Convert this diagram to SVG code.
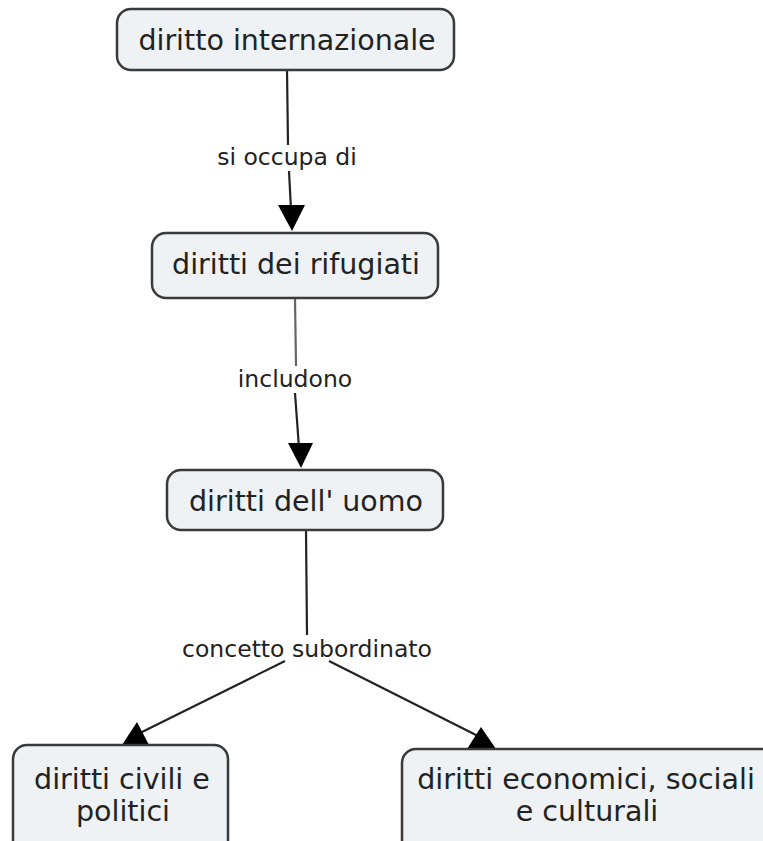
<svg xmlns="http://www.w3.org/2000/svg" width="763" height="841" viewBox="0 0 763 841">
  <style>
    .box { fill: #eef2f5; stroke: #3a3a3a; stroke-width: 2.5; }
    .ntext { font-family: "DejaVu Sans", Verdana, sans-serif; font-size: 28.5px; fill: #222; text-anchor: middle; }
    .ltext { font-family: "DejaVu Sans", Verdana, sans-serif; font-size: 23.5px; fill: #222; text-anchor: middle; }
    .line { stroke: #222; stroke-width: 2.2; fill: none; }
    .head { fill: #000; }
  </style>
  <rect width="763" height="841" fill="#fff"/>

  <!-- connectors and link labels -->
  <g id="connectors">
    <line class="line" x1="287" y1="70" x2="288" y2="145"/>
    <line class="line" x1="289" y1="171" x2="291" y2="210"/>
    <polygon class="head" points="278,205 305,205 292,231"/>
    <text class="ltext" x="287" y="165">si occupa di</text>

    <line class="line" x1="295" y1="298" x2="296" y2="366" style="stroke:#666"/>
    <line class="line" x1="295" y1="393" x2="299" y2="448"/>
    <polygon class="head" points="288,443 313,443 301,468"/>
    <text class="ltext" x="295" y="387">includono</text>

    <line class="line" x1="306" y1="530" x2="307" y2="635"/>
    <text class="ltext" x="307" y="657">concetto subordinato</text>
    <line class="line" x1="285" y1="661" x2="140" y2="733"/>
    <polygon class="head" points="122,745 149,745 137,722"/>
    <line class="line" x1="329" y1="661" x2="478" y2="736"/>
    <polygon class="head" points="467,749 496,749 481,727"/>
  </g>

  <g id="node-diritto-internazionale">
    <rect class="box" x="117" y="9" width="337" height="61" rx="14"/>
    <text class="ntext" x="287" y="50">diritto internazionale</text>
  </g>

  <g id="node-diritti-rifugiati">
    <rect class="box" x="152" y="233" width="286" height="65" rx="14"/>
    <text class="ntext" x="296" y="274">diritti dei rifugiati</text>
  </g>

  <g id="node-diritti-uomo">
    <rect class="box" x="167" y="470" width="276" height="60" rx="14"/>
    <text class="ntext" x="306" y="511">diritti dell' uomo</text>
  </g>

  <g id="node-diritti-civili">
    <rect class="box" x="13" y="745" width="215" height="115" rx="14"/>
    <text class="ntext" x="122" y="789">diritti civili e</text>
    <text class="ntext" x="123" y="821">politici</text>
  </g>

  <g id="node-diritti-economici">
    <rect class="box" x="402" y="749" width="375" height="111" rx="14"/>
    <text class="ntext" x="586" y="789">diritti economici, sociali</text>
    <text class="ntext" x="587" y="821">e culturali</text>
  </g>
</svg>
